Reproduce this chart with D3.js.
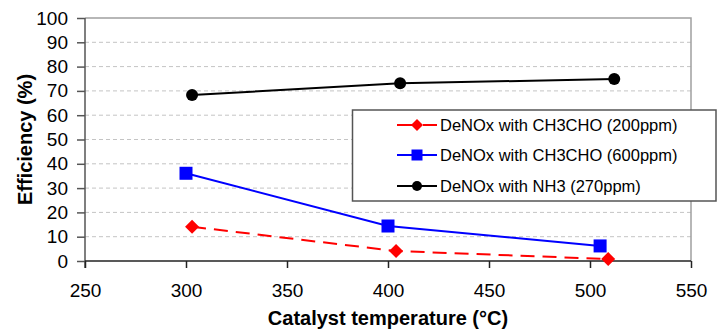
<!DOCTYPE html>
<html>
<head>
<meta charset="utf-8">
<script src="https://cdn.jsdelivr.net/npm/d3@7"></script>
<style>
  html, body { margin: 0; padding: 0; background: #fff; }
  svg { display: block; font-family: "Liberation Sans", Arial, sans-serif; }
</style>
</head>
<body>
<svg id="chart" width="717" height="330"></svg>
<script>
const xTicks = [250, 300, 350, 400, 450, 500, 550];
const yTicks = [0, 10, 20, 30, 40, 50, 60, 70, 80, 90, 100];

const seriesNames = ["DeNOx with CH3CHO (200ppm)", "DeNOx with CH3CHO (600ppm)", "DeNOx with NH3 (270ppm)"];
const redX = [303, 404, 509];
const redY = [14.1, 4.1, 0.8];
const blueX = [300, 400, 505];
const blueY = [36.1, 14.4, 6.2];
const blackX = [303, 406, 512];
const blackY = [68.3, 73.1, 74.9];

const xLabel = "Catalyst temperature (°C)";
const yLabel = "Efficiency (%)";

(function () {
const svg = d3.select("#chart");
const pLeft = 85, pRight = 691, pTop = 18, pBottom = 261;

const x = d3.scaleLinear().domain([250, 550]).range([pLeft, pRight]);
const y = d3.scaleLinear().domain([0, 100]).range([pBottom, pTop]);

// gridlines
svg.append("g").selectAll("line")
  .data(yTicks.filter(d => d > 0 && d < 100))
  .join("line")
  .attr("x1", pLeft).attr("x2", pRight)
  .attr("y1", d => y(d)).attr("y2", d => y(d))
  .attr("stroke", "#c4c4c4").attr("stroke-width", 1)
  .attr("stroke-dasharray", "4,3");

// plot border top/right
svg.append("path")
  .attr("d", `M${pLeft},${pTop}H${pRight}V${pBottom}`)
  .attr("fill", "none").attr("stroke", "#a0a0a0").attr("stroke-width", 1.5);

// y axis
const yAxis = d3.axisLeft(y).tickValues(yTicks).tickSize(8).tickPadding(9);
const gy = svg.append("g").attr("transform", `translate(${pLeft},0)`).call(yAxis);
gy.select(".domain").attr("stroke", "#555").attr("stroke-width", 1.5).attr("d", `M0,${pTop}V${pBottom + 7}`);
gy.selectAll(".tick line").attr("stroke", "#555").attr("stroke-width", 1.5);
gy.selectAll(".tick text").attr("font-size", 19).attr("fill", "#000")
  .attr("font-family", "Liberation Sans, Arial, sans-serif");

// x axis
const xAxis = d3.axisBottom(x).tickValues(xTicks).tickSize(7).tickPadding(16);
const gx = svg.append("g").attr("transform", `translate(0,${pBottom})`).call(xAxis);
gx.select(".domain").attr("stroke", "#222").attr("stroke-width", 1.5).attr("d", `M${pLeft},0H${pRight}`);
gx.selectAll(".tick line").attr("stroke", "#222").attr("stroke-width", 1.5);
gx.selectAll(".tick text").attr("font-size", 19).attr("fill", "#000")
  .attr("font-family", "Liberation Sans, Arial, sans-serif");

// axis titles
svg.append("text")
  .attr("x", (pLeft + pRight) / 2).attr("y", 325)
  .attr("text-anchor", "middle").attr("font-weight", "bold").attr("font-size", 20)
  .text(xLabel);
svg.append("text")
  .attr("transform", `translate(32,${(pTop + pBottom) / 2}) rotate(-90)`)
  .attr("text-anchor", "middle").attr("font-weight", "bold").attr("font-size", 20)
  .text(yLabel);

const line = d3.line().x(d => x(d[0])).y(d => y(d[1]));

const series = [
  { name: seriesNames[0], xs: redX, ys: redY, color: "#ff0000", dash: "14,8", legendDash: "17,9,14", marker: "diamond" },
  { name: seriesNames[1], xs: blueX, ys: blueY, color: "#0000ff", dash: null, legendDash: null, marker: "square" },
  { name: seriesNames[2], xs: blackX, ys: blackY, color: "#000000", dash: null, legendDash: null, marker: "circle" }
];

function drawMarker(g, type, cx, cy, color, s) {
  if (type === "diamond") {
    g.append("path").attr("d", `M${cx},${cy - s}L${cx + s},${cy}L${cx},${cy + s}L${cx - s},${cy}Z`).attr("fill", color);
  } else if (type === "square") {
    g.append("rect").attr("x", cx - s).attr("y", cy - s).attr("width", 2 * s).attr("height", 2 * s).attr("fill", color);
  } else {
    g.append("circle").attr("cx", cx).attr("cy", cy).attr("r", s).attr("fill", color);
  }
}

series.forEach(s => {
  const pts = s.xs.map((v, i) => [v, s.ys[i]]);
  svg.append("path").datum(pts).attr("d", line)
    .attr("fill", "none").attr("stroke", s.color).attr("stroke-width", 2)
    .attr("stroke-dasharray", s.dash);
  const g = svg.append("g");
  const size = s.marker === "diamond" ? 7 : (s.marker === "square" ? 6.5 : 6);
  pts.forEach(p => drawMarker(g, s.marker, x(p[0]), y(p[1]), s.color, size));
});

// legend
const lg = svg.append("g");
lg.append("rect").attr("x", 352.5).attr("y", 110).attr("width", 363.5).attr("height", 91)
  .attr("fill", "#fff").attr("stroke", "#555").attr("stroke-width", 1.5);
const rowsY = [125, 155, 186];
series.forEach((s, i) => {
  lg.append("line").attr("x1", 397).attr("x2", 437).attr("y1", rowsY[i]).attr("y2", rowsY[i])
    .attr("stroke", s.color).attr("stroke-width", 2)
    .attr("stroke-dasharray", s.legendDash);
  const size = s.marker === "diamond" ? 6 : (s.marker === "square" ? 5.5 : 5);
  drawMarker(lg, s.marker, 417, rowsY[i], s.color, size);
  lg.append("text").attr("x", 440).attr("y", rowsY[i]).attr("dy", "0.36em")
    .attr("font-size", 16.5).attr("fill", "#000").text(s.name);
});
})();
</script>
</body>
</html>
